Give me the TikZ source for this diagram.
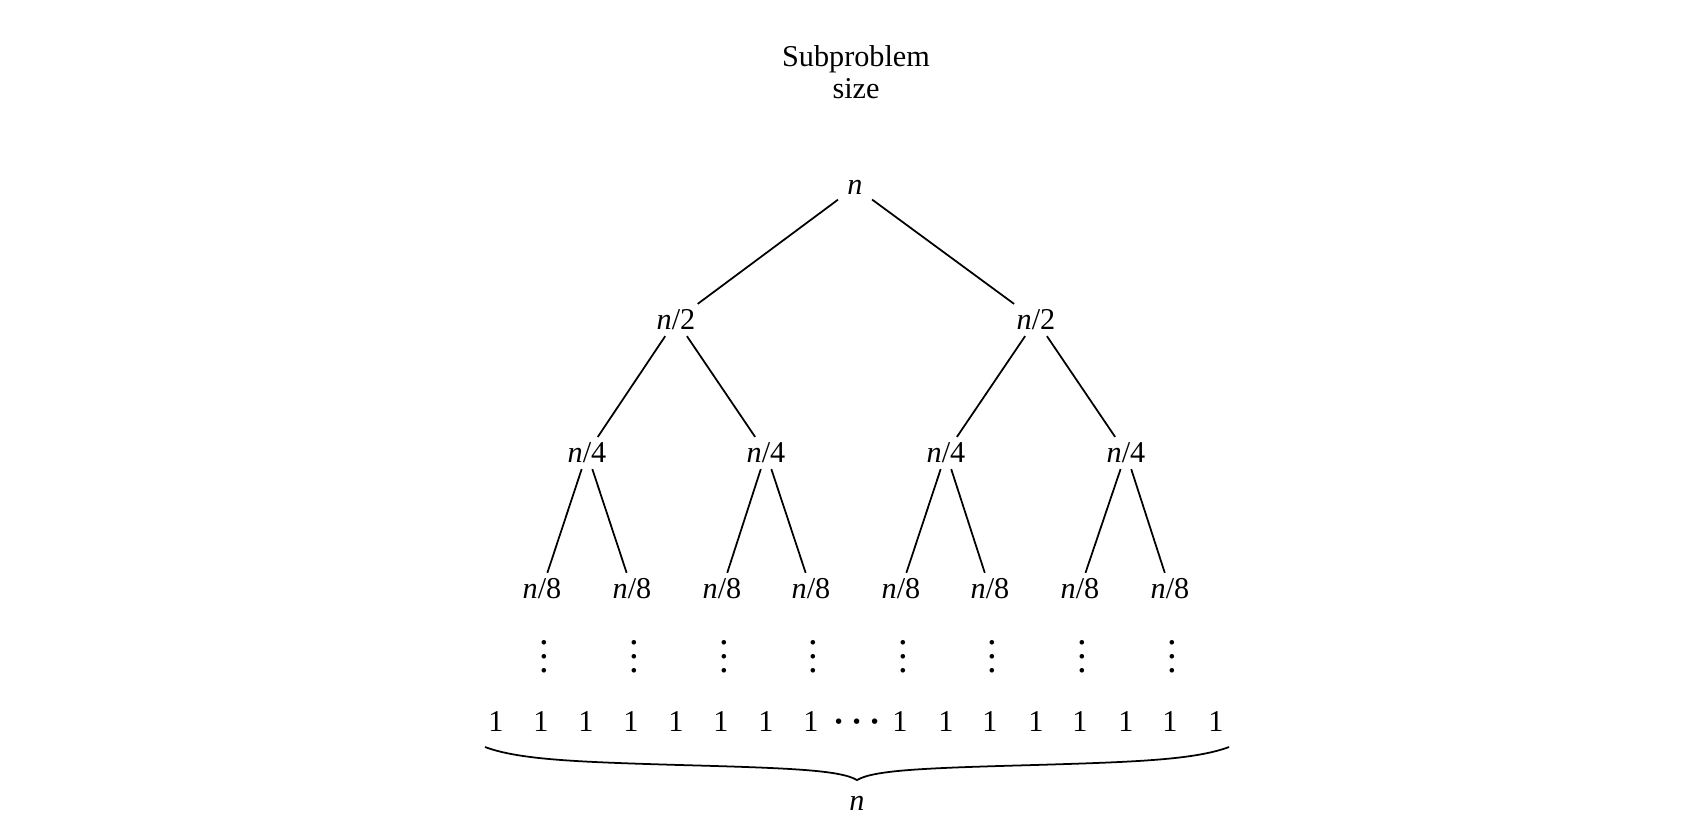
\documentclass[tikz,border=0pt]{standalone}
\usepackage{fontspec}
\setmainfont{Liberation Serif}
\tikzset{
  lbl/.style={inner sep=1.5pt,font=\fontsize{8.6}{9.3}\selectfont},
  dotlbl/.style={inner sep=0pt,font=\fontsize{11}{12}\selectfont\boldmath},
  edge/.style={line width=.5pt}
}
\newcommand{\nn}{\textit{n}}
\begin{document}
\begin{tikzpicture}[x=1cm,y=1cm]
\useasboundingbox (0,0) rectangle (17.01,-8.36);
\node[lbl,align=center] (title) at (8.56,-0.72) {Subproblem\\size};
% the tree
\node[lbl,inner sep=2.5pt] (r) at (8.55,-1.87) {\nn};
\node[lbl] (a1) at (6.76,-3.20) {\nn/2};
\node[lbl] (a2) at (10.36,-3.20) {\nn/2};
\foreach \x [count=\i] in {5.87,7.66,9.46,11.26}
  \node[lbl] (b\i) at (\x,-4.53) {\nn/4};
\foreach \x [count=\i] in {5.42,6.32,7.22,8.11,9.01,9.90,10.80,11.70} {
  \node[lbl] (c\i) at (\x,-5.89) {\nn/8};
  \node[dotlbl] (d\i) at (\x+.02,-6.46) {$\vdots$};
}
\draw[edge] (r) -- (a1);
\draw[edge] (r) -- (a2);
\draw[edge] (a1) -- (b1);
\draw[edge] (a1) -- (b2);
\draw[edge] (a2) -- (b3);
\draw[edge] (a2) -- (b4);
\foreach \i/\j in {1/1,1/2,2/3,2/4,3/5,3/6,4/7,4/8}
  \draw[edge] (b\i) -- (c\j);
% the leaves
\foreach \x [count=\i] in {4.96,5.41,5.86,6.31,6.76,7.21,7.66,8.11}
  \node[lbl] (p\i) at (\x,-7.21) {1};
\node[dotlbl,font=\fontsize{10}{12}\selectfont\boldmath] (dots) at (8.57,-7.22) {$\cdots$};
\foreach \x [count=\i] in {9.00,9.46,9.90,10.36,10.80,11.26,11.70,12.16}
  \node[lbl] (q\i) at (\x,-7.21) {1};
% brace under the leaves
\coordinate (bl) at (4.85,-7.47);
\coordinate (bt) at (8.57,-7.80);
\coordinate (br) at (12.29,-7.47);
\draw[edge] (bl) .. controls (5.20,-7.60) and (5.80,-7.62) .. (6.80,-7.65)
  .. controls (7.90,-7.68) and (8.40,-7.70) .. (bt)
  .. controls (8.74,-7.70) and (9.24,-7.68) .. (10.34,-7.65)
  .. controls (11.34,-7.62) and (11.94,-7.60) .. (br);
\node[lbl] (total) at (8.57,-8.03) {\nn};
\end{tikzpicture}
\end{document}
